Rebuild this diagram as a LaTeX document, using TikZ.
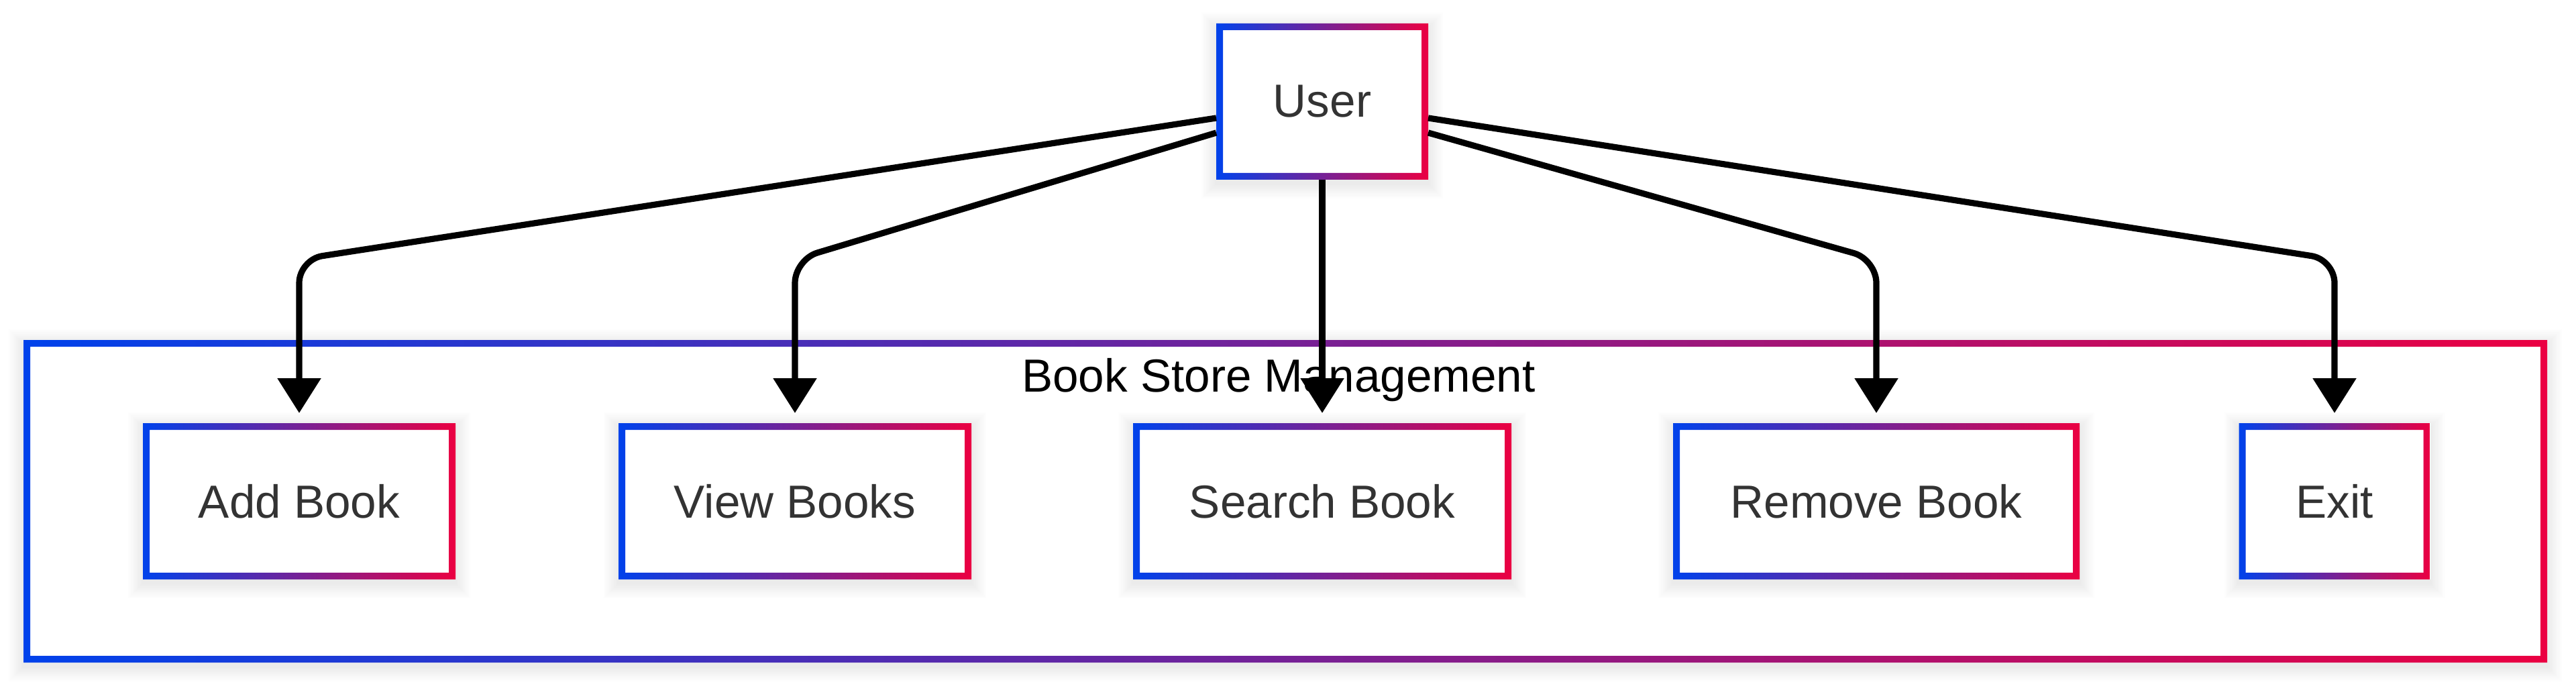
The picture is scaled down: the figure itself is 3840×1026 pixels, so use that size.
\documentclass[tikz,border=0pt]{standalone}
\usepackage{fontspec}
\setmainfont{Liberation Sans}
\usetikzlibrary{arrows.meta,calc}
\definecolor{gblue}{RGB}{0,66,235}
\definecolor{gred}{RGB}{235,0,66}
\definecolor{txt}{RGB}{51,51,51}
\pgfdeclarelayer{bg}
\pgfdeclarelayer{mid}
\pgfsetlayers{bg,mid,main}
\newcommand\gframe[1]{%
  \shade[left color=gblue, right color=gred, even odd rule]
    (#1.south west) rectangle (#1.north east)
    ([shift={(2.5pt,2.5pt)}]#1.south west) rectangle ([shift={(-2.5pt,-2.5pt)}]#1.north east);}
\newcommand\softshadow[1]{%
  \foreach \k in {1,...,10}{%
    \fill[black,opacity=0.007]
      ([shift={(-\k*0.55pt,-\k*0.55pt-1.5pt)}]#1.south west) rectangle
      ([shift={(\k*0.55pt,\k*0.55pt-1.5pt)}]#1.north east);}}
\begin{document}
\begin{tikzpicture}[x=0.25pt,y=-0.25pt,
  lbl/.style={font=\fontsize{17.3}{20}\selectfont},
  box/.style={lbl, rectangle, fill=white, inner sep=0pt, outer sep=0pt,
    minimum height=58.25pt, text=txt},
  edge/.style={draw=black, line width=2.3pt, rounded corners=8.75pt,
    -{Triangle[width=15.75pt,length=13pt]}, shorten >=3.75pt}]
\useasboundingbox (0,0) rectangle (3840,1026);
\coordinate (ry) at (0,387);
% cluster
\begin{pgfonlayer}{bg}
\node[rectangle, inner sep=0pt, outer sep=0pt, minimum width=940.5pt,
  minimum height=120.25pt] (cl) at (1916,747.5) {};
\softshadow{cl}
\fill[white] (cl.south west) rectangle (cl.north east);
\gframe{cl}
\node[lbl, anchor=base, text=black, inner sep=0pt] (title) at (1906,585) {Book Store Management};
\end{pgfonlayer}
% nodes
\node[box, minimum width=79pt] (U) at (1971,151.5) {User};
\node[box, minimum width=116.5pt] (A) at (446,747.5) {Add Book};
\node[box, minimum width=131.5pt] (V) at (1185,747.5) {View Books};
\node[box, minimum width=141pt] (S) at (1971,747.5) {Search Book};
\node[box, minimum width=151.5pt] (R) at (2797,747.5) {Remove Book};
\node[box, minimum width=71.25pt] (E) at (3480,747.5) {Exit};
\begin{pgfonlayer}{mid}
\foreach \n in {U,A,V,S,R,E}{\softshadow{\n}}
\end{pgfonlayer}
\foreach \n in {U,A,V,S,R,E}{\gframe{\n}}
% edges
\draw[edge] ($(U.west)+(0,24.5)$) -- (A.north |- ry) -- (A.north);
\draw[edge] ($(U.west)+(0,46.5)$) -- (V.north |- ry) -- (V.north);
\draw[edge] (U.south) -- (S.north);
\draw[edge] ($(U.east)+(0,46.5)$) -- (R.north |- ry) -- (R.north);
\draw[edge] ($(U.east)+(0,24.5)$) -- (E.north |- ry) -- (E.north);
\end{tikzpicture}
\end{document}
